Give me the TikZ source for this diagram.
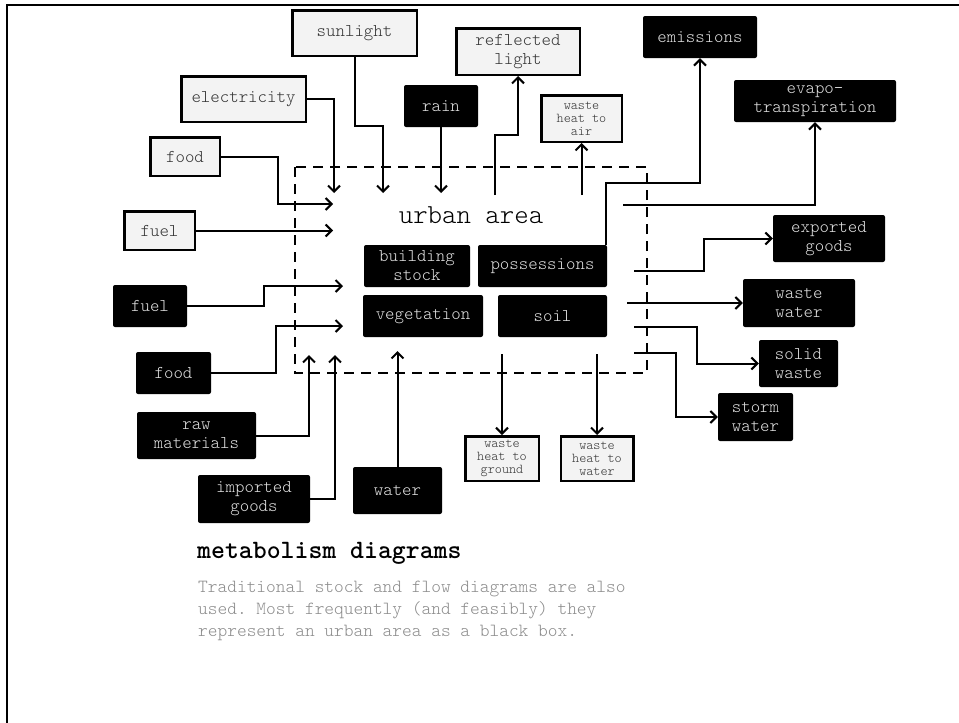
\documentclass[tikz,border=0pt]{standalone}
\renewcommand\familydefault{\ttdefault}
\usetikzlibrary{arrows.meta}
\definecolor{lightfill}{HTML}{F3F3F3}
\definecolor{textdark}{HTML}{333333}
\definecolor{textlight}{HTML}{E2E2E2}
\definecolor{bodygray}{HTML}{8C8C8C}
\frenchspacing
\begin{document}
\begin{tikzpicture}[x=1pt,y=-1pt,
  lbox/.style={draw=black, line width=2.5pt, fill=lightfill, text=textdark, inner sep=0pt, align=center, font=\fontseries{l}\fontsize{18}{19}\selectfont},
  dbox/.style={fill=black, rounded corners=2pt, text=textlight, inner sep=0pt, align=center, font=\fontseries{l}\fontsize{18}{19}\selectfont},
  smalltext/.style={font=\fontseries{l}\fontsize{13.5}{13}\selectfont},
  flow/.style={line width=2pt, -{Straight Barb[length=6pt,width=12pt]}},
]
\useasboundingbox (0,0) rectangle (959,723);
\fill[white] (0,0) rectangle (959,723);
% frame
\draw[line width=2.5pt] (7,723) -- (7,5) -- (959,5);
% urban area boundary
\draw[line width=2.5pt, dash pattern=on 10pt off 7pt] (295,167) rectangle (647,373);
\node[anchor=base, font=\fontseries{l}\fontsize{27.5}{30}\selectfont, inner sep=0pt] (urban) at (471,223) {urban area};

% light boxes
\node[lbox, minimum width=124.5pt, minimum height=45.5pt] (sun) at (354.5,33) {sunlight};
\node[lbox, minimum width=123.5pt, minimum height=46.5pt] (refl) at (518,51.5) {reflected\\light};
\node[lbox, minimum width=124.5pt, minimum height=45.5pt] (elec) at (243.5,99) {electricity};
\node[lbox, minimum width=69.5pt, minimum height=38.5pt] (foodL) at (185,156.5) {food};
\node[lbox, minimum width=70.5pt, minimum height=38.5pt] (fuelL) at (159.5,230.5) {fuel};
\node[lbox, smalltext, minimum width=80.5pt, minimum height=46.5pt] (air) at (581.5,118.5) {waste\\heat to\\air};
\node[lbox, smalltext, minimum width=73.5pt, minimum height=44.5pt] (ground) at (502,458.5) {waste\\heat to\\ground};
\node[lbox, smalltext, minimum width=72.5pt, minimum height=44.5pt] (wwater) at (597,458.5) {waste\\heat to\\water};

% dark boxes
\node[dbox, minimum width=74pt, minimum height=42pt] (rain) at (441,106) {rain};
\node[dbox, minimum width=114pt, minimum height=42pt] (emis) at (700,37) {emissions};
\node[dbox, minimum width=162pt, minimum height=42pt] (evap) at (815,101) {evapo-\\transpiration};
\node[dbox, minimum width=112pt, minimum height=47pt] (expo) at (829,238.5) {exported\\goods};
\node[dbox, minimum width=106pt, minimum height=42pt] (build) at (417,266) {building\\stock};
\node[dbox, minimum width=129pt, minimum height=42pt] (poss) at (542.5,266) {possessions};
\node[dbox, minimum width=120pt, minimum height=42pt] (veg) at (423,316) {vegetation};
\node[dbox, minimum width=109pt, minimum height=42pt] (soil) at (552.5,316) {soil};
\node[dbox, minimum width=112pt, minimum height=48pt] (wastew) at (799,303) {waste\\water};
\node[dbox, minimum width=79pt, minimum height=47pt] (solid) at (798.5,363.5) {solid\\waste};
\node[dbox, minimum width=75pt, minimum height=48pt] (storm) at (755.5,417) {storm\\water};
\node[dbox, minimum width=74pt, minimum height=42pt] (fuelB) at (150,306) {fuel};
\node[dbox, minimum width=75pt, minimum height=42pt] (foodB) at (173.5,373) {food};
\node[dbox, minimum width=119pt, minimum height=47pt] (raw) at (196.5,435.5) {raw\\materials};
\node[dbox, minimum width=112pt, minimum height=48pt] (imp) at (254,499) {imported\\goods};
\node[dbox, minimum width=89pt, minimum height=47pt] (water) at (397.5,490.5) {water};

% coordinates
\coordinate (inTop) at (0,193);
\coordinate (outTop) at (0,195);
\coordinate (tipE) at (334,193);
\coordinate (sunY) at (0,126);
\coordinate (tipS) at (383,193);
\coordinate (fbend) at (278,204);
\coordinate (tipF) at (333,204);
\coordinate (tipFu) at (333,230.5);
\coordinate (fbb) at (264,286);
\coordinate (tipFB) at (343,286);
\coordinate (fdb) at (276,326);
\coordinate (tipFdB) at (343,326);
\coordinate (tipR) at (309,355);
\coordinate (tipI) at (335,355);
\coordinate (tipW) at (0,351);
\coordinate (rlS) at (495,195);
\coordinate (rlY) at (0,135);
\coordinate (emY) at (0,183);
\coordinate (evS) at (623,205);
\coordinate (exS) at (634,271);
\coordinate (exB) at (704,0);
\coordinate (wwS) at (627,303);
\coordinate (swS) at (634,327);
\coordinate (swB) at (697,0);
\coordinate (stS) at (634,353);
\coordinate (stB) at (676,0);
\coordinate (botS) at (0,354);

% inflows
\draw[flow] (elec.east) -| (tipE);
\draw[flow] (sun.south) -- (sun.south |- sunY) -| (tipS);
\draw[flow] (rain.south) -- (rain.south |- inTop);
\draw[flow] (foodL.east) -| (fbend) -- (tipF);
\draw[flow] (fuelL.east) -- (tipFu);
\draw[flow] (fuelB.east) -| (fbb) -- (tipFB);
\draw[flow] (foodB.east) -| (fdb) -- (tipFdB);
\draw[flow] (raw.east) -| (tipR);
\draw[flow] (imp.east) -| (tipI);
\draw[flow] (water.north) -- (water.north |- tipW);

% outflows
\draw[flow] (rlS) |- (refl.south |- rlY) -- (refl.south);
\draw[flow] (air.south |- outTop) -- (air.south);
\draw[flow] ([xshift=-1pt]poss.north east) |- (emis.south |- emY) -- (emis.south);
\draw[flow] (evS) -| (evap.south);
\draw[flow] (exS) -| (exB |- expo.west) -- (expo.west);
\draw[flow] (wwS) -- (wastew.west);
\draw[flow] (swS) -| (swB |- solid.west) -- (solid.west);
\draw[flow] (stS) -| (stB |- storm.west) -- (storm.west);
\draw[flow] (ground.north |- botS) -- (ground.north);
\draw[flow] (wwater.north |- botS) -- (wwater.north);

% caption
\node[anchor=base west, inner sep=0pt, font=\bfseries\fontsize{26.5}{28}\selectfont] (title) at (197,558) {metabolism diagrams};
\node[anchor=base west, inner sep=0pt, text=bodygray, font=\fontseries{l}\fontsize{18.5}{22}\selectfont] (body1) at (198,592) {Traditional stock and flow diagrams are also};
\node[anchor=base west, inner sep=0pt, text=bodygray, font=\fontseries{l}\fontsize{18.5}{22}\selectfont] (body2) at (198,614) {used. Most frequently (and feasibly) they};
\node[anchor=base west, inner sep=0pt, text=bodygray, font=\fontseries{l}\fontsize{18.5}{22}\selectfont] (body3) at (198,636) {represent an urban area as a black box.};
\end{tikzpicture}
\end{document}
